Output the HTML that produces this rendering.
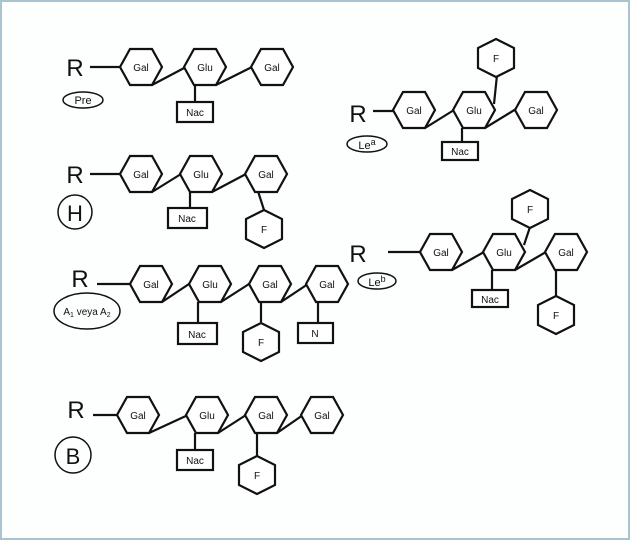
<!DOCTYPE html>
<html><head><meta charset="utf-8"><style>
html,body{margin:0;padding:0;background:#fff}
svg{display:block}
text{font-family:"Liberation Sans","DejaVu Sans",sans-serif;fill:#111}
</style></head><body>
<svg width="630" height="540" viewBox="0 0 630 540" xmlns="http://www.w3.org/2000/svg">
<defs>
<polygon id="h" points="-21,0 -11,-18 11,-18 21,0 11,18 -11,18" fill="#fff" stroke="#111" stroke-width="2.2"/>
<polygon id="f" points="-19,0 -10,-18 10,-18 19,0 10,18 -10,18" fill="#fff" stroke="#111" stroke-width="2.2" transform="rotate(90)"/>
</defs>
<rect x="1" y="1" width="628" height="538" fill="#fdfefe" stroke="#a9c4cf" stroke-width="2"/>
<g stroke="#111" stroke-width="2.2" fill="none">
<line x1="90" y1="67" x2="120" y2="67"/>
<line x1="152" y1="85" x2="186" y2="67"/>
<line x1="216" y1="85" x2="252" y2="67"/>
<line x1="195" y1="85" x2="195" y2="102"/>
<line x1="90" y1="174" x2="120" y2="174"/>
<line x1="152" y1="192" x2="181" y2="174"/>
<line x1="212" y1="192" x2="246" y2="174"/>
<line x1="190" y1="192" x2="190" y2="208"/>
<line x1="256" y1="185" x2="264" y2="210"/>
<line x1="97" y1="284" x2="130" y2="284"/>
<line x1="162" y1="302" x2="189" y2="284"/>
<line x1="221" y1="302" x2="249" y2="284"/>
<line x1="281" y1="302" x2="308" y2="284"/>
<line x1="198" y1="302" x2="198" y2="323"/>
<line x1="261" y1="302" x2="261" y2="322"/>
<line x1="318" y1="302" x2="318" y2="323"/>
<line x1="93" y1="415" x2="118" y2="415"/>
<line x1="149" y1="433" x2="188" y2="415"/>
<line x1="218" y1="433" x2="246" y2="415"/>
<line x1="277" y1="433" x2="303" y2="415"/>
<line x1="195" y1="433" x2="195" y2="450"/>
<line x1="257" y1="433" x2="257" y2="457"/>
<line x1="373" y1="111" x2="394" y2="111"/>
<line x1="425" y1="128" x2="454" y2="110"/>
<line x1="485" y1="128" x2="516" y2="109"/>
<line x1="462" y1="128" x2="462" y2="142"/>
<line x1="497" y1="75" x2="494" y2="104"/>
<line x1="388" y1="252" x2="420" y2="252"/>
<line x1="452" y1="270" x2="484" y2="252"/>
<line x1="515" y1="270" x2="546" y2="252"/>
<line x1="492" y1="270" x2="492" y2="290"/>
<line x1="530" y1="227" x2="524" y2="245"/>
<line x1="556" y1="270" x2="556" y2="297"/>
</g>
<use href="#h" x="141" y="67"/><use href="#h" x="205" y="67"/><use href="#h" x="272" y="67"/>
<use href="#h" x="141" y="174"/><use href="#h" x="201" y="174"/><use href="#h" x="266" y="174"/>
<use href="#f" x="264" y="229"/>
<use href="#h" x="151" y="284"/><use href="#h" x="210" y="284"/><use href="#h" x="270" y="284"/><use href="#h" x="327" y="284"/>
<use href="#f" x="261" y="342"/>
<use href="#h" x="138" y="415"/><use href="#h" x="207" y="415"/><use href="#h" x="266" y="415"/><use href="#h" x="322" y="415"/>
<use href="#f" x="257" y="475"/>
<use href="#h" x="414" y="110"/><use href="#h" x="474" y="110"/><use href="#h" x="536" y="110"/>
<use href="#f" x="496" y="58"/>
<use href="#h" x="441" y="252"/><use href="#h" x="504" y="252"/><use href="#h" x="566" y="252"/>
<use href="#f" x="530" y="209"/><use href="#f" x="556" y="315"/>
<g fill="#fff" stroke="#111" stroke-width="2.2">
<rect x="177" y="102" width="36" height="20"/>
<rect x="168" y="208" width="39" height="20"/>
<rect x="178" y="323" width="39" height="21"/>
<rect x="298" y="323" width="35" height="20"/>
<rect x="177" y="450" width="36" height="20"/>
<rect x="442" y="142" width="36" height="18"/>
<rect x="472" y="290" width="36" height="17"/>
<ellipse cx="83" cy="100" rx="20" ry="8" fill="none" stroke-width="1.5"/>
<circle cx="75" cy="212" r="17" fill="none" stroke-width="1.5"/>
<ellipse cx="87" cy="311" rx="33" ry="18" fill="none" stroke-width="1.5"/>
<circle cx="73" cy="455" r="18" fill="none" stroke-width="1.5"/>
<ellipse cx="367" cy="144" rx="20" ry="8" fill="none" stroke-width="1.5"/>
<ellipse cx="377" cy="281" rx="19" ry="8" fill="none" stroke-width="1.5"/>
</g>
<g font-size="10" text-anchor="middle">
<text x="141" y="71">Gal</text><text x="205" y="71">Glu</text><text x="272" y="71">Gal</text>
<text x="195" y="116">Nac</text>
<text x="141" y="178">Gal</text><text x="201" y="178">Glu</text><text x="266" y="178">Gal</text>
<text x="264" y="233">F</text><text x="187" y="222">Nac</text>
<text x="151" y="288">Gal</text><text x="210" y="288">Glu</text><text x="270" y="288">Gal</text><text x="327" y="288">Gal</text>
<text x="197" y="338">Nac</text><text x="261" y="346">F</text><text x="315" y="337">N</text>
<text x="138" y="419">Gal</text><text x="207" y="419">Glu</text><text x="266" y="419">Gal</text><text x="322" y="419">Gal</text>
<text x="195" y="464">Nac</text><text x="257" y="479">F</text>
<text x="414" y="114">Gal</text><text x="474" y="114">Glu</text><text x="536" y="114">Gal</text>
<text x="496" y="62">F</text><text x="460" y="155">Nac</text>
<text x="441" y="256">Gal</text><text x="504" y="256">Glu</text><text x="566" y="256">Gal</text>
<text x="530" y="213">F</text><text x="556" y="319">F</text><text x="490" y="303">Nac</text>
<text x="83" y="104" font-size="11">Pre</text>
<text x="87" y="315" font-size="10">A<tspan font-size="7" dy="2">1</tspan><tspan dy="-2"> veya A</tspan><tspan font-size="7" dy="2">2</tspan></text>
<text x="367" y="149" font-size="11">Le<tspan font-size="9" dy="-4">a</tspan></text>
<text x="377" y="286" font-size="11">Le<tspan font-size="9" dy="-4">b</tspan></text>
</g>
<g font-size="24" text-anchor="middle">
<text x="75" y="76">R</text>
<text x="75" y="183">R</text>
<text x="80" y="287">R</text>
<text x="76" y="418">R</text>
<text x="358" y="122">R</text>
<text x="358" y="262">R</text>
<text x="75" y="221" font-size="22">H</text>
<text x="73" y="464" font-size="22">B</text>
</g>
</svg>
</body></html>
